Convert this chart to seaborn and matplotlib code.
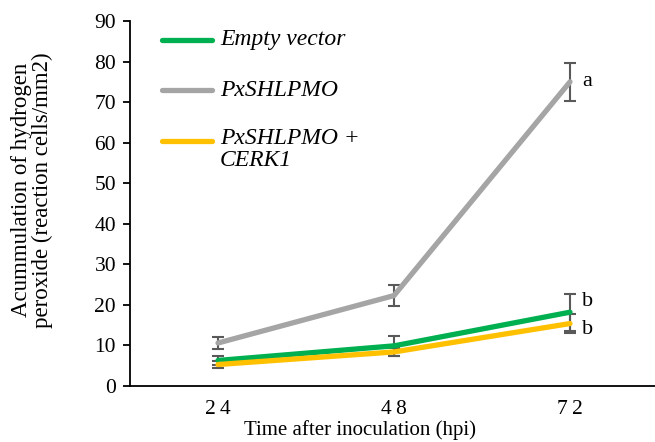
import matplotlib
matplotlib.use("Agg")
import matplotlib.pyplot as plt
import seaborn as sns
import pandas as pd
import numpy as np

# Sampling times (hpi) and treatment groups
times = ["2\u20094", "4\u20098", "7\u20092"]
groups = ["Empty vector", "PxSHLPMO", "PxSHLPMO +\nCERK1"]
colors = ["#00B050", "#A5A5A5", "#FFC000"]

# Mean H2O2 accumulation (reaction cells/mm2) and standard errors
empty_vector = [6.3, 9.9, 18.2]
pxshlpmo = [10.6, 22.3, 75.0]
pxshlpmo_cerk1 = [5.3, 8.4, 15.4]
err_empty = [1.1, 2.5, 4.6]
err_pxshlpmo = [1.4, 2.5, 4.7]
err_cerk1 = [0.8, 0.9, 2.4]

# Significance letters at 72 hpi
letters = ["b", "a", "b"]

means = [empty_vector, pxshlpmo, pxshlpmo_cerk1]
errs = [err_empty, err_pxshlpmo, err_cerk1]

df = pd.DataFrame({
    "pos": np.tile(np.arange(len(times)), len(groups)),
    "value": np.concatenate(means),
    "err": np.concatenate(errs),
    "group": np.repeat(groups, len(times)),
})

sns.set_style("white")
plt.rcParams["font.family"] = ["Liberation Serif", "DejaVu Serif"]
plt.rcParams["text.color"] = "black"
plt.rcParams["xtick.color"] = "black"
plt.rcParams["ytick.color"] = "black"

fig = plt.figure(figsize=(6.55, 4.42), dpi=100)
ax = fig.add_axes([130 / 655, 56 / 442, 528 / 655, 365 / 442])

# error bars behind the lines
for g, c in zip(groups, colors):
    sub = df[df["group"] == g]
    ax.errorbar(sub["pos"], sub["value"], yerr=sub["err"], fmt="none",
                ecolor="#595959", elinewidth=1.5, capsize=4.5, capthick=1.5, zorder=2)

sns.lineplot(data=df, x="pos", y="value", hue="group", hue_order=groups,
             palette=colors, linewidth=3.8, legend=False, ax=ax,
             sort=False, zorder=3)
for ln in ax.lines:
    ln.set_solid_capstyle("round")
    ln.set_solid_joinstyle("round")

# letters beside the 72 hpi points
letter_y = [empty_vector[2] + 2.6, pxshlpmo[2] + 0.2, pxshlpmo_cerk1[2] - 1.4]
for lt, y in zip(letters, letter_y):
    ax.text(2.07, y, lt, fontsize=16, va="center", ha="left")

ax.set_xlim(-0.5, 2.5)
ax.set_ylim(0, 90)
ax.set_yticks(np.arange(0, 91, 10))
ax.set_xticks(range(len(times)))
ax.set_xticklabels(times)
ax.set_xticks([-0.5, 0.5, 1.5, 2.5], minor=True)
ax.tick_params(axis="x", which="major", length=0, labelsize=15.5, pad=10)
ax.tick_params(axis="x", which="minor", length=6, width=1.3, direction="out")
ax.tick_params(axis="y", length=5, width=1.3, direction="out", labelsize=15.5,
               pad=5, left=True)

for s in ["top", "right"]:
    ax.spines[s].set_visible(False)
for s in ["left", "bottom"]:
    ax.spines[s].set_color("black")
    ax.spines[s].set_linewidth(1.3)

ax.set_xlabel("")
ax.set_ylabel("")
fig.text(360 / 655, 1 - 430 / 442, "Time after inoculation (hpi)", fontsize=15,
         ha="center", va="center")
fig.text(32 / 655, 1 - 190 / 442, "Acummulation of hydrogen\nperoxide (reaction cells/mm2)",
         fontsize=16.5, ha="center", va="center", rotation=90, linespacing=0.95)

# legend drawn in figure coordinates
leg_y = [40, 90, 141]
for g, c, y in zip(groups, colors, leg_y):
    yy = 1 - y / 442
    fig.add_artist(plt.Line2D([162 / 655, 212 / 655], [yy, yy], color=c,
                              linewidth=3.8, solid_capstyle="round"))
    if "\n" in g:
        fig.text(220 / 655, yy + 13 / 442, g, fontsize=17, style="italic",
                 ha="left", va="top", linespacing=1.05)
    else:
        fig.text(220 / 655, yy, g, fontsize=17, style="italic",
                 ha="left", va="center")

fig.savefig("out.png", dpi=100)
